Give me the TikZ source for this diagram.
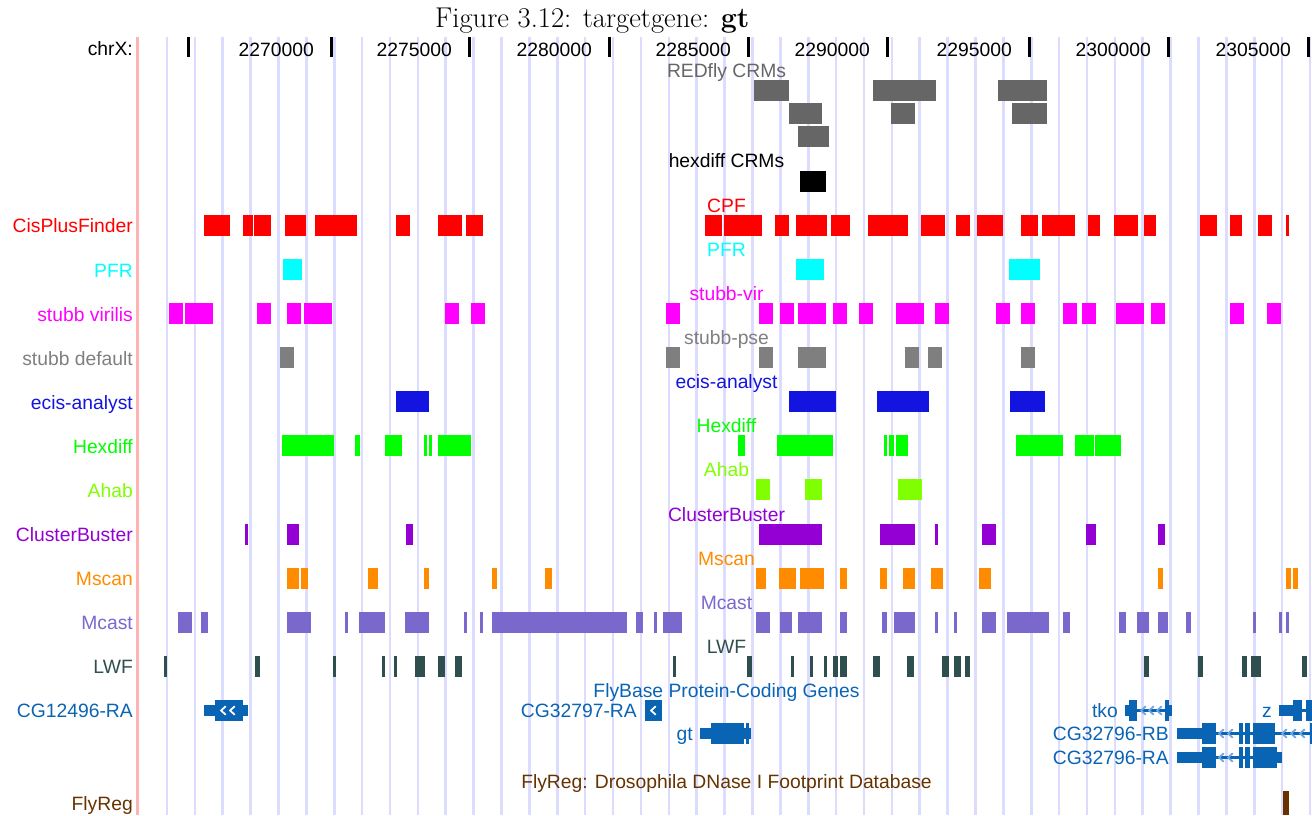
\documentclass[tikz,border=0pt]{standalone}
\usepackage{fontspec}
\newfontfamily\labfont{Liberation Sans}
\definecolor{gridc}{HTML}{DCDCFF}
\definecolor{pinkc}{HTML}{FFB4B4}
\definecolor{redfly}{HTML}{666666}
\definecolor{cpf}{HTML}{FF0000}
\definecolor{pfr}{HTML}{00FFFF}
\definecolor{stubbv}{HTML}{FF00FF}
\definecolor{stubbd}{HTML}{7F7F7F}
\definecolor{ecis}{HTML}{1414E0}
\definecolor{hexd}{HTML}{00FF00}
\definecolor{ahab}{HTML}{7FFF00}
\definecolor{cbust}{HTML}{9400D3}
\definecolor{mscan}{HTML}{FF8C00}
\definecolor{mcast}{HTML}{7B68CD}
\definecolor{lwf}{HTML}{2F4F4F}
\definecolor{genec}{HTML}{0A64B4}
\definecolor{arrowc}{HTML}{70A4DC}
\definecolor{flyreg}{HTML}{663300}
% one row of feature bars: colour, top, bottom, list of start/end
\newcommand\bars[4]{\foreach \xa/\xb in {#4} {\fill[#1] (\xa,#2) rectangle (\xb,#3);}}
% gene model pieces: start, end, centre line
\newcommand\utr[3]{\fill[genec] (#1,#3-5.5) rectangle (#2,#3+5.5);}
\newcommand\cds[3]{\fill[genec] (#1,#3-10.5) rectangle (#2,#3+10.5);}
\newcommand\intr[3]{\draw[genec,line width=2.2] (#1,#3) -- (#2,#3);}
\newcommand\chevl[3]{\draw[#3,line width=1.8,line cap=round,line join=round] (#1+2.5,#2-4) -- (#1-2,#2) -- (#1+2.5,#2+4);}
\newcommand\chevr[3]{\draw[#3,line width=1.8,line cap=round,line join=round] (#1-2.5,#2-4) -- (#1+2,#2) -- (#1-2.5,#2+4);}
\tikzset{
  lab/.style={font=\labfont\fontsize{19.3}{21}\selectfont, inner sep=0pt, anchor=base east},
  mid/.style={font=\labfont\fontsize{19.3}{21}\selectfont, inner sep=0pt, anchor=base},
  tickbar/.style={line width=3pt, black},
}
\begin{document}
\begin{tikzpicture}[x=1pt,y=-1pt]
\useasboundingbox (0,0) rectangle (1312,815);
% vertical grid
\foreach \k in {0,...,41} {\draw[gridc,line width=2.6pt] ({167+27.878*\k},37) -- ({167+27.878*\k},815);}
\draw[pinkc,line width=3pt] (137.5,37) -- (137.5,815);
% title
\node[inner sep=0pt,anchor=base west,font=\fontsize{28.6}{32}\selectfont] (title) at (435,27) {Figure 3.12: targetgene: \textbf{gt}};
% ruler
\node[lab,text=black] (chrx) at (133,55) {chrX:};
\draw[tickbar] (188,37) -- (188,57);
\foreach \t/\v in {331/2270000,469/2275000,609/2280000,748/2285000,887/2290000,1029/2295000,1168/2300000,1308/2305000} {
  \draw[tickbar] (\t,37) -- (\t,57);
  \node[lab,text=black] (tick\v) at (\t-17,56) {\v};
}
% REDfly CRMs
\node[mid,text=redfly] (redflylab) at (726.5,77) {REDfly CRMs};
\bars{redfly}{80}{101}{754/789,873/936,998/1047}
\bars{redfly}{103}{124}{789/822,891/915,1012/1047}
\bars{redfly}{126}{147}{798/829}
% hexdiff CRMs
\node[mid,text=black] (hexcrmlab) at (726.5,167) {hexdiff CRMs};
\bars{black}{171}{192}{800/826}
% CisPlusFinder
\node[lab,text=cpf] (cpfname) at (133,232) {CisPlusFinder};
\node[mid,text=cpf] (cpflab) at (726.5,212) {CPF};
\bars{cpf}{215}{236}{204/230,243/253,254/271,285/306,315/357,396/410,438/462,466/483,705/722,724/762,775/789,796/827,831/850,868/908,921/945,956/970,977/1003,1021/1038,1042/1075,1088/1100,1114/1138,1144/1156,1200/1217,1230/1242,1258/1272,1286/1289}
% PFR
\node[lab,text=pfr] (pfrname) at (133,277) {PFR};
\node[mid,text=pfr] (pfrlab) at (726.5,256) {PFR};
\bars{pfr}{259}{280}{283/302,796/824,1009/1040}
% stubb virilis
\node[lab,text=stubbv] (svname) at (133,321) {stubb virilis};
\node[mid,text=stubbv] (svlab) at (726.5,300) {stubb-vir};
\bars{stubbv}{303}{324}{169/183,185/213,257/271,287/301,304/332,445/459,471/485,666/680,759/773,780/794,798/826,833/847,859/873,896/924,935/949,996/1010,1021/1035,1063/1077,1082/1096,1116/1144,1151/1165,1230/1244,1267/1281}
% stubb default
\node[lab,text=stubbd] (sdname) at (133,365) {stubb default};
\node[mid,text=stubbd] (sdlab) at (726.5,344) {stubb-pse};
\bars{stubbd}{347}{368}{280/294,666/680,759/773,798/826,905/919,928/942,1021/1035}
% ecis-analyst
\node[lab,text=ecis] (ecname) at (133,409) {ecis-analyst};
\node[mid,text=ecis] (eclab) at (726.5,388) {ecis-analyst};
\bars{ecis}{391}{412}{396/429,789/836,877/929,1010/1045}
% Hexdiff
\node[lab,text=hexd] (hdname) at (133,453) {Hexdiff};
\node[mid,text=hexd] (hdlab) at (726.5,432) {Hexdiff};
\bars{hexd}{435}{456}{282/334,355/360,385/402,424/427,429/432,438/471,738/745,777/833,884/887,889/894,896/908,1016/1063,1075/1094,1095/1121}
% Ahab
\node[lab,text=ahab] (ahname) at (133,497) {Ahab};
\node[mid,text=ahab] (ahlab) at (726.5,476) {Ahab};
\bars{ahab}{479}{500}{756/770,805/822,898/922}
% ClusterBuster
\node[lab,text=cbust] (cbname) at (133,541) {ClusterBuster};
\node[mid,text=cbust] (cblab) at (726.5,521) {ClusterBuster};
\bars{cbust}{524}{545}{245/248,287/299,406/413,759/822,880/915,935/938,982/996,1086/1096,1158/1165}
% Mscan
\node[lab,text=mscan] (msname) at (133,585) {Mscan};
\node[mid,text=mscan] (mslab) at (726.5,565) {Mscan};
\bars{mscan}{568}{589}{287/299,301/308,368/378,424/429,492/497,545/552,756/766,779/796,800/824,840/847,880/887,903/915,931/943,979/991,1158/1163,1286/1291,1293/1298}
% Mcast
\node[lab,text=mcast] (mcname) at (133,629) {Mcast};
\node[mid,text=mcast] (mclab) at (726.5,609) {Mcast};
\bars{mcast}{612}{633}{178/192,201/208,287/311,345/348,359/385,405/429,464/467,480/483,492/627,636/643,654/657,663/682,756/770,780/792,798/822,840/847,882/887,894/915,935/938,954/957,982/996,1007/1049,1063/1070,1119/1126,1137/1149,1158/1168,1186/1191,1253/1256,1279/1282,1286/1289}
% LWF
\node[lab,text=lwf] (lwname) at (133,673) {LWF};
\node[mid,text=lwf] (lwlab) at (726.5,653) {LWF};
\bars{lwf}{656}{677}{164/167,255/260,333/336,382/385,394/397,415/425,438/445,455/462,673/676,747/752,791/794,810/813,824/827,833/838,840/847,873/880,907/914,942/949,954/961,965/970,1144/1149,1198/1203,1242/1247,1251/1261,1302/1307}
% FlyBase genes
\node[mid,text=genec] (fblab) at (726.5,697) {FlyBase Protein-Coding Genes};
\node[lab,text=genec] (cg12496) at (133,717) {CG12496-RA};
\utr{204}{248}{710.5}
\cds{215}{243}{710.5}
\chevl{223}{710.5}{white}
\chevl{232}{710.5}{white}
\node[lab,text=genec] (cg32797) at (637,717) {CG32797-RA};
\cds{645}{662}{710.5}
\chevl{653}{710.5}{white}
\node[lab,text=genec] (gtname) at (693,740) {gt};
\utr{700}{751}{733.5}
\cds{711}{744}{733.5}
\cds{746}{749}{733.5}
\node[lab,text=genec] (tkoname) at (1118,717) {tko};
\intr{1137}{1165}{710.5}
\chevl{1143}{710.5}{arrowc}
\chevl{1151}{710.5}{arrowc}
\chevl{1159}{710.5}{arrowc}
\utr{1125}{1129}{710.5}
\cds{1129}{1137}{710.5}
\cds{1165}{1169}{710.5}
\utr{1169}{1172}{710.5}
\node[lab,text=genec] (zname) at (1272,717) {z};
\intr{1302}{1306}{710.5}
\utr{1279}{1293}{710.5}
\cds{1293}{1302}{710.5}
\cds{1306}{1312}{710.5}
\node[lab,text=genec] (cg32796rb) at (1169,740) {CG32796-RB};
\intr{1216}{1310}{733.5}
\chevl{1221}{733.5}{arrowc}
\chevl{1230}{733.5}{arrowc}
\chevl{1284}{733.5}{arrowc}
\chevl{1293}{733.5}{arrowc}
\chevl{1302}{733.5}{arrowc}
\utr{1177}{1202}{733.5}
\cds{1202}{1216}{733.5}
\cds{1239}{1243}{733.5}
\cds{1245}{1250}{733.5}
\cds{1253}{1275}{733.5}
\cds{1310}{1312}{733.5}
\node[lab,text=genec] (cg32796ra) at (1169,764) {CG32796-RA};
\intr{1216}{1253}{757.5}
\chevl{1221}{757.5}{arrowc}
\chevl{1230}{757.5}{arrowc}
\utr{1177}{1202}{757.5}
\cds{1202}{1216}{757.5}
\cds{1239}{1243}{757.5}
\cds{1245}{1250}{757.5}
\cds{1253}{1277}{757.5}
\utr{1277}{1282}{757.5}
% FlyReg
\node[mid,text=flyreg] (frlab) at (726.5,788) {FlyReg: Drosophila DNase I Footprint Database};
\node[lab,text=flyreg] (frname) at (133,810) {FlyReg};
\bars{flyreg}{791}{815}{1283/1289}
\end{tikzpicture}
\end{document}
